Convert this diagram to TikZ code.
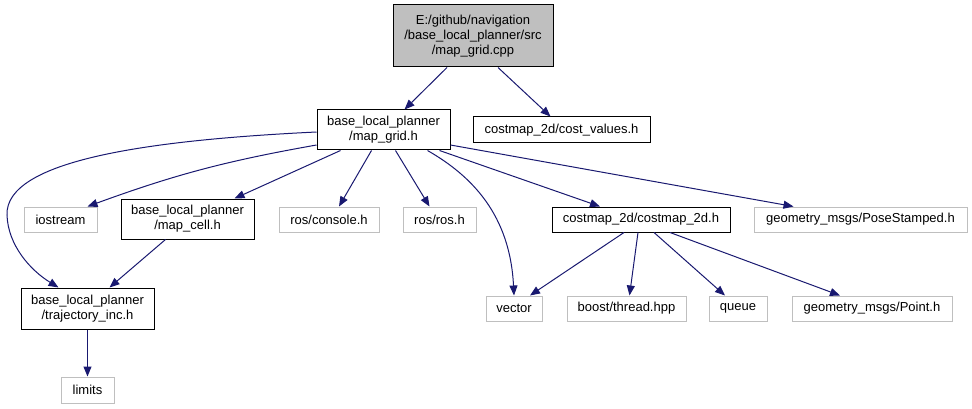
\documentclass[tikz,border=0pt]{standalone}
\usepackage{fontspec}
\setmainfont{Liberation Sans}
\usetikzlibrary{arrows.meta}
\definecolor{edgeblue}{HTML}{191970}
\definecolor{boxgrey}{HTML}{BFBFBF}
\begin{document}
\begin{tikzpicture}[x=1pt, y=-1pt,
  every node/.style={draw, fill=white, align=center, inner sep=0pt, line width=1pt, minimum height=25pt, font=\fontsize{13}{15}\selectfont},
  hdr/.style={draw=black},
  ext/.style={draw=boxgrey},
  dep/.style={draw=edgeblue, line width=1pt, -{Triangle[length=10pt,width=8pt]}}]
\useasboundingbox (0,0) rectangle (972,409);
\node[hdr, fill=boxgrey, minimum width=160pt, minimum height=62pt] (root) at (473,36) {E:/github/navigation\\/base\_local\_planner/src\\/map\_grid.cpp};
\node[hdr, minimum width=133pt, minimum height=40pt] (mg) at (383.5,130) {base\_local\_planner\\/map\_grid.h};
\node[hdr, minimum width=177pt, minimum height=26pt] (cv) at (561.5,130) {costmap\_2d/cost\_values.h};
\node[ext, minimum width=73pt] (ios) at (60.5,219.5) {iostream};
\node[hdr, minimum width=133pt, minimum height=40pt] (mc) at (187.5,219) {base\_local\_planner\\/map\_cell.h};
\node[ext, minimum width=100pt] (con) at (329,219.5) {ros/console.h};
\node[ext, minimum width=73pt] (ros) at (439.5,219.5) {ros/ros.h};
\node[hdr, minimum width=178pt] (cm) at (641,219.5) {costmap\_2d/costmap\_2d.h};
\node[ext, minimum width=213pt] (pose) at (860.5,219.5) {geometry\_msgs/PoseStamped.h};
\node[hdr, minimum width=133pt, minimum height=41pt] (tr) at (87.5,308.5) {base\_local\_planner\\/trajectory\_inc.h};
\node[ext, minimum width=53pt, minimum height=26pt] (lim) at (87.5,390) {limits};
\node[ext, minimum width=56pt] (vec) at (514,308.5) {vector};
\node[ext, minimum width=119pt] (thr) at (626.5,308.5) {boost/thread.hpp};
\node[ext, minimum width=58pt] (que) at (738,308.5) {queue};
\node[ext, minimum width=160pt] (pt) at (872,308.5) {geometry\_msgs/Point.h};
\draw[dep] ([xshift=-26pt]root.south) -- ([xshift=21pt]mg.north);
\draw[dep] ([xshift=25pt]root.south) -- ([xshift=-11pt]cv.north);
\draw[dep] ([yshift=-15pt]mg.west) to[bend right=5] ([xshift=-10pt]ios.north east);
\draw[dep] ([yshift=-2pt]mg.west) .. controls (150,140) and (5,160) .. (7,215) .. controls (8,245) and (30,270) .. ([xshift=-29pt]tr.north);
\draw[dep] ([xshift=-43pt]mg.south) -- ([xshift=47pt]mc.north);
\draw[dep] ([xshift=-12pt]mg.south) -- ([xshift=10pt]con.north);
\draw[dep] ([xshift=12pt]mg.south) -- ([xshift=-10pt]ros.north);
\draw[dep] ([xshift=44pt]mg.south) .. controls (472,176) and (510,215) .. (vec.north);
\draw[dep] ([xshift=56pt]mg.south) -- ([xshift=-41pt]cm.north);
\draw[dep] ([yshift=-15pt]mg.east) -- ([xshift=-67pt]pose.north);
\draw[dep] ([xshift=-22pt]mc.south) -- ([xshift=22pt]tr.north);
\draw[dep] (tr.south) -- (lim.north);
\draw[dep] ([xshift=-17pt]cm.south) -- ([xshift=16pt]vec.north);
\draw[dep] ([xshift=-3pt]cm.south) -- ([xshift=3pt]thr.north);
\draw[dep] ([xshift=13pt]cm.south) -- ([xshift=-13pt]que.north);
\draw[dep] ([xshift=29pt]cm.south) -- ([xshift=-32pt]pt.north);
\end{tikzpicture}
\end{document}
